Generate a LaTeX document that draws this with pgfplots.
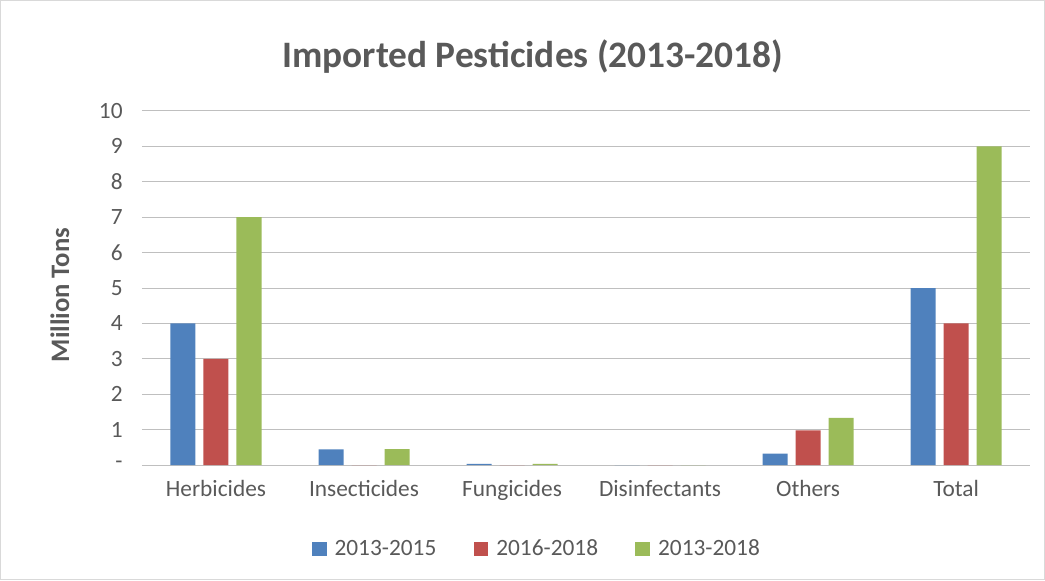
\documentclass[border=0pt]{standalone}
\usepackage{pgfplots}
\pgfplotsset{compat=1.18}
\usepackage{fontspec}
\setmainfont{Carlito}
\definecolor{cblue}{HTML}{4F81BD}
\definecolor{cred}{HTML}{C0504D}
\definecolor{cgreen}{HTML}{9BBB59}
\definecolor{txt}{HTML}{595959}
\definecolor{grid}{HTML}{D9D9D9}
\begin{document}
\begin{tikzpicture}
\draw[grid, line width=0.75pt] (0.4pt,0.4pt) rectangle (783.3pt,434.6pt);
\begin{axis}[
  at={(106.5pt,86.25pt)}, anchor=south west,
  scale only axis, width=666pt, height=265.5pt,
  clip=false,
  ybar=6pt, bar width=18.75pt,
  xmin=-0.5, xmax=5.5, ymin=0, ymax=10,
  xtick=data,
  xticklabels={Herbicides,Insecticides,Fungicides,Disinfectants,Others,Total},
  ytick={0,...,10},
  yticklabels={-,1,2,3,4,5,6,7,8,9,10},
  ymajorgrids, xmajorgrids=false, grid style={grid, line width=0.75pt},
  axis line style={draw=none},
  major tick length=0pt,
  tick style={draw=none},
  /pgf/number format/assume math mode=true,
  ticklabel style={font=\fontsize{17.5}{21}\selectfont, text=txt},
  xticklabel style={yshift=-8pt},
  yticklabel style={xshift=-11pt},
  legend columns=3,
  legend style={draw=none, at={(0.445,-0.237)}, anchor=center, font=\fontsize{17.5}{21}\selectfont, text=txt,
    /tikz/every odd column/.append style={column sep=4pt},
    /tikz/every even column/.append style={column sep=26pt}},
  legend image code/.code={\fill[#1] (0pt,-5.5pt) rectangle (11pt,5.5pt);},
]
\addplot[fill=cblue, draw=none] coordinates {(0,4) (1,0.44) (2,0.03) (3,0) (4,0.32) (5,5)};
\addplot[fill=cred, draw=none] coordinates {(0,3) (1,0) (2,0) (3,0) (4,0.98) (5,4)};
\addplot[fill=cgreen, draw=none] coordinates {(0,7) (1,0.45) (2,0.03) (3,0) (4,1.33) (5,9)};
\legend{2013-2015,2016-2018,2013-2018}
\node[font=\bfseries\fontsize{28}{33}\selectfont, text=txt] at ([yshift=40.5pt]axis description cs:0.44,1) {Imported Pesticides (2013-2018)};
\node[font=\bfseries\fontsize{20}{24}\selectfont, text=txt, rotate=90] at ([xshift=-61.5pt]axis description cs:0,0.48) {Million Tons};
\end{axis}
\end{tikzpicture}
\end{document}
